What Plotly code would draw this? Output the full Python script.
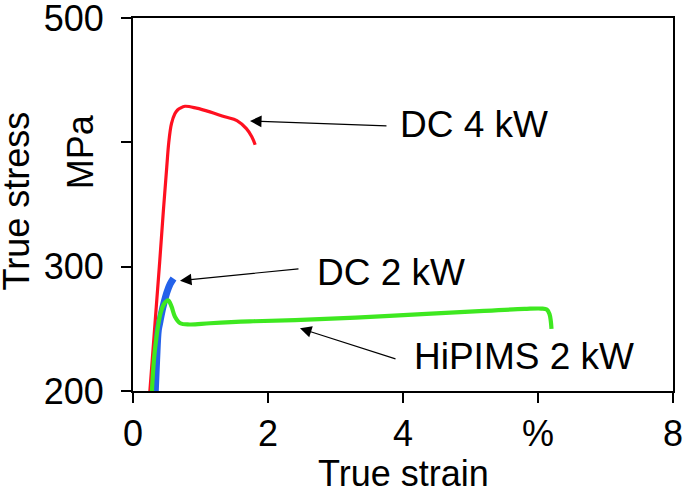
import plotly.graph_objects as go

# values
dc4_strain = [0.25, 0.32, 0.39, 0.45, 0.50, 0.53, 0.57, 0.62, 0.66, 0.70, 0.77,
              0.94, 1.14, 1.36, 1.54, 1.68, 1.76, 1.81]
dc4_stress = [200, 250, 300, 345, 380, 400, 415, 423, 426, 427.5, 429,
              427.5, 424.5, 420.5, 417.5, 411, 404.5, 398]

dc2_strain = [0.33, 0.35, 0.375, 0.40, 0.425, 0.46, 0.50, 0.55, 0.60]
dc2_stress = [200, 225, 249, 256, 263, 271, 279, 286, 290.5]

hip_strain = [0.28, 0.31, 0.34, 0.37, 0.41, 0.46, 0.52, 0.57, 0.62, 0.70, 0.84,
              1.14, 1.73, 2.4, 3.3, 4.35, 5.2, 5.8, 6.05, 6.13, 6.17, 6.19, 6.2]
hip_stress = [200, 225, 240, 252, 263, 270, 273, 268, 260, 254.5, 253.5,
              254.5, 256, 257, 259, 262, 264.5, 266, 266.3, 265.5, 262, 256, 250]

x_ticks = [0, 2, 4, 6, 8]
x_ticktext = ["0", "2", "4", "%", "8"]
y_ticks = [200, 300, 400, 500]
y_ticktext = ["200", "300", "", "500"]

FONT = "Arial, Liberation Sans, sans-serif"

fig = go.Figure()
fig.add_trace(go.Scatter(x=dc4_strain, y=dc4_stress, mode="lines",
                         line=dict(color="#ff1020", width=3.2, shape="spline")))
fig.add_trace(go.Scatter(x=dc2_strain, y=dc2_stress, mode="lines",
                         line=dict(color="#2462ea", width=7, shape="spline")))
fig.add_trace(go.Scatter(x=hip_strain, y=hip_stress, mode="lines",
                         line=dict(color="#3ee820", width=4.2, shape="spline")))

# arrows: (head x, head y, tail dx, tail dy in px)
arrows = [(1.733, 417.2, 138, 5), (0.696, 288.7, 120, -12), (2.474, 250.4, 97, 31)]
for hx, hy, dx, dy in arrows:
    fig.add_annotation(x=hx, y=hy, ax=dx, ay=dy, text="", showarrow=True,
                       arrowhead=2, arrowsize=2.1, arrowwidth=1.1, arrowcolor="black")

# label centres in reference pixels, converted to paper fractions
labels = [("DC 4 kW", 474, 125), ("DC 2 kW", 391, 272), ("HiPIMS 2 kW", 524, 356)]
for txt, px, py in labels:
    fig.add_annotation(x=(px - 133) / 540, y=(391 - py) / 373, xref="paper", yref="paper",
                       text=txt, showarrow=False, xanchor="center", yanchor="middle",
                       font=dict(size=37, color="black", family=FONT))

# axis titles
fig.add_annotation(x=0.5, y=-0.220, xref="paper", yref="paper", text="True strain",
                   showarrow=False, xanchor="center", yanchor="middle",
                   font=dict(size=36, color="black", family=FONT))
fig.add_annotation(x=-0.216, y=0.509, xref="paper", yref="paper", text="True stress",
                   textangle=-90, showarrow=False, xanchor="center", yanchor="middle",
                   font=dict(size=36, color="black", family=FONT))
fig.add_annotation(x=-0.098, y=0.640, xref="paper", yref="paper", text="MPa",
                   textangle=-90, showarrow=False, xanchor="center", yanchor="middle",
                   font=dict(size=36, color="black", family=FONT))

fig.update_xaxes(range=[0, 8], tickvals=x_ticks, ticktext=x_ticktext,
                 ticks="outside", ticklen=10, tickwidth=1.5, tickcolor="black",
                 showline=True, linecolor="black", linewidth=1.8, mirror=True,
                 showgrid=False, zeroline=False, automargin=False,
                 ticklabeloverflow="allow",
                 tickfont=dict(size=36, color="black", family=FONT))
fig.update_yaxes(range=[200, 500], tickvals=y_ticks, ticktext=y_ticktext,
                 ticks="outside", ticklen=10, tickwidth=1.5, tickcolor="black",
                 showline=True, linecolor="black", linewidth=1.8, mirror=True,
                 showgrid=False, zeroline=False, automargin=False,
                 ticklabeloverflow="allow", ticklabelstandoff=10,
                 tickfont=dict(size=36, color="black", family=FONT))

fig.update_layout(width=685, height=488, showlegend=False,
                  margin=dict(l=133, r=12, t=18, b=97),
                  plot_bgcolor="white", paper_bgcolor="white",
                  font=dict(family=FONT, color="black"))

# drop the default body margin so the figure sits at the window's corner
fig.write_html("out.html", config={"displayModeBar": False},
               post_script="document.body.style.margin = '0';")
